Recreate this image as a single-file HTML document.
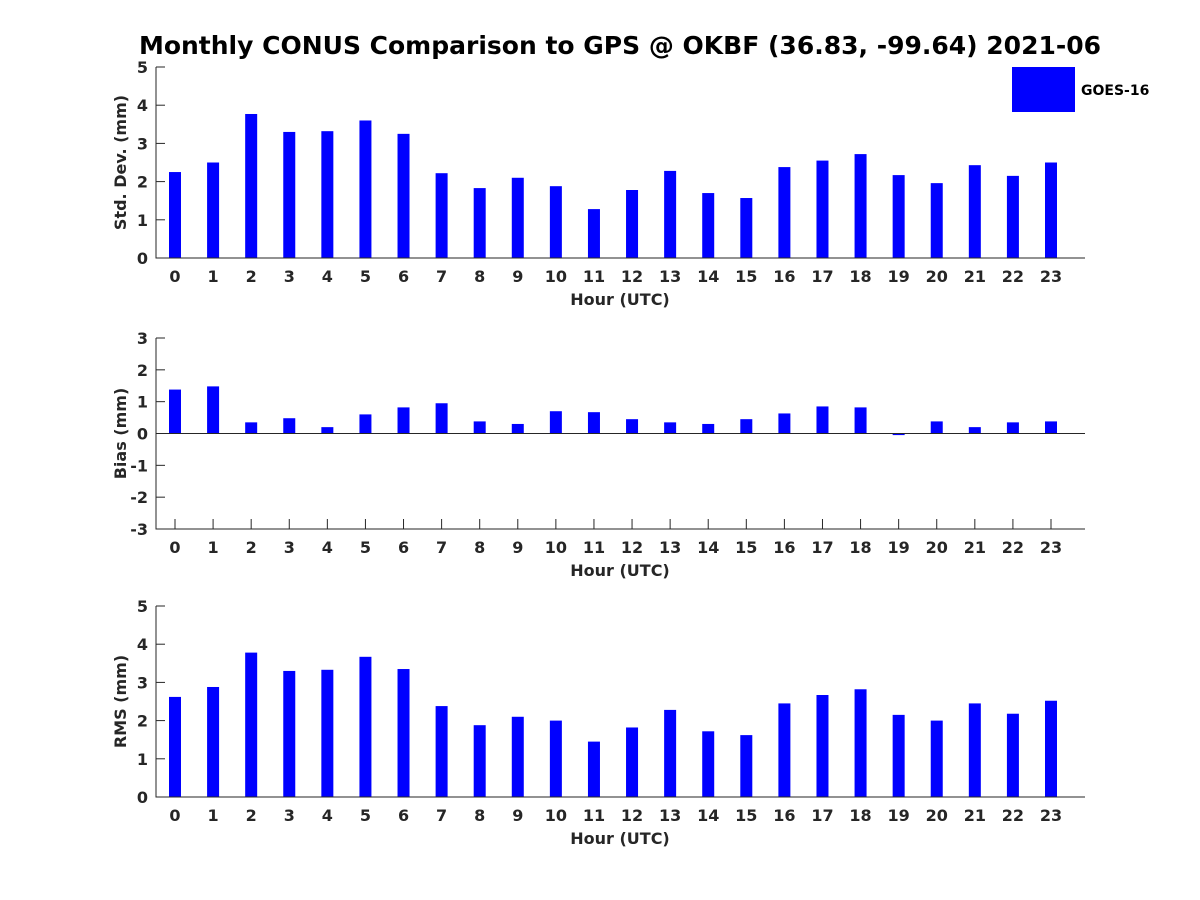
<!DOCTYPE html>
<html><head><meta charset="utf-8"><style>body{margin:0;background:#fff}svg{display:block}text{font-family:"DejaVu Sans","Liberation Sans",sans-serif;font-weight:bold;fill:#262626}</style></head>
<body>
<svg id="c" width="1200" height="900" xmlns="http://www.w3.org/2000/svg">
<rect width="1200" height="900" fill="#fff"/>
<text x="620" y="54" text-anchor="middle" font-size="25" style="fill:#000">Monthly CONUS Comparison to GPS @ OKBF (36.83, -99.64) 2021-06</text>
<rect x="1012" y="67" width="63" height="45" fill="#0000ff"/>
<text x="1081" y="95" font-size="14" style="fill:#000">GOES-16</text>
</svg>
<script>
const hours=[0,1,2,3,4,5,6,7,8,9,10,11,12,13,14,15,16,17,18,19,20,21,22,23];
const stdDev=[2.25,2.5,3.77,3.3,3.32,3.6,3.25,2.22,1.83,2.1,1.88,1.28,1.78,2.28,1.7,1.57,2.38,2.55,2.72,2.17,1.96,2.43,2.15,2.5];
const bias=[1.38,1.48,0.35,0.48,0.2,0.6,0.82,0.95,0.38,0.3,0.7,0.67,0.45,0.35,0.3,0.45,0.63,0.85,0.82,-0.05,0.38,0.2,0.35,0.38];
const rms=[2.62,2.88,3.78,3.3,3.33,3.67,3.35,2.38,1.88,2.1,2.0,1.45,1.82,2.28,1.72,1.62,2.45,2.67,2.82,2.15,2.0,2.45,2.18,2.52];
const stdTicks=[0,1,2,3,4,5];
const biasTicks=[-3,-2,-1,0,1,2,3];
const rmsTicks=[0,1,2,3,4,5];
const svg=document.getElementById('c');const NS='http://www.w3.org/2000/svg';
function mk(t,a,txt){const e=document.createElementNS(NS,t);for(const k in a)e.setAttribute(k,a[k]);if(txt!==undefined)e.textContent=txt;svg.appendChild(e);return e;}
const L=156,R=1085,step=(1051-175)/23;
const xs=h=>175+h*step;
function panel(name,vals,ticks,top,bot,ylab){
  const lo=ticks[0],hi=ticks[ticks.length-1];
  const ys=v=>bot-(v-lo)/(hi-lo)*(bot-top);
  ticks.forEach(t=>{const y=ys(t);
    let l=mk('line',{x1:L,x2:L+9,y1:y,y2:y,stroke:'#262626','stroke-width':1});
    
    let tx=mk('text',{x:L-8,y:y+6,'text-anchor':'end','font-size':16},String(t));
    });
  hours.forEach((h,i)=>{const x=xs(h);
    let l=mk('line',{x1:x,x2:x,y1:bot,y2:bot-10,stroke:'#262626','stroke-width':1});
    
    let tx=mk('text',{x:x,y:bot+24,'text-anchor':'middle','font-size':16},String(h));
    
    const v=vals[i],y0=ys(Math.max(lo,0)),y1=ys(v);
    let b=mk('rect',{x:x-6,y:Math.min(y0,y1),width:12,height:Math.abs(y1-y0),fill:'#0000ff'});
    });
  if(lo<0){let z=mk('line',{x1:L,x2:R,y1:ys(0),y2:ys(0),stroke:'#262626','stroke-width':1});
    }
  let ax=mk('path',{d:`M${L} ${top}V${bot}H${R}`,fill:'none',stroke:'#262626','stroke-width':1});
  
  let xl=mk('text',{x:620,y:bot+47,'text-anchor':'middle','font-size':16},'Hour (UTC)');
  
  const cy=(top+bot)/2;
  let yl=mk('text',{x:0,y:0,'text-anchor':'middle','font-size':16,transform:`translate(126 ${cy}) rotate(-90)`},ylab);
  
}
panel('std-dev',stdDev,stdTicks,67,258,'Std. Dev. (mm)');
panel('bias',bias,biasTicks,338,529,'Bias (mm)');
panel('rms',rms,rmsTicks,606,797,'RMS (mm)');
</script>
</body></html>
